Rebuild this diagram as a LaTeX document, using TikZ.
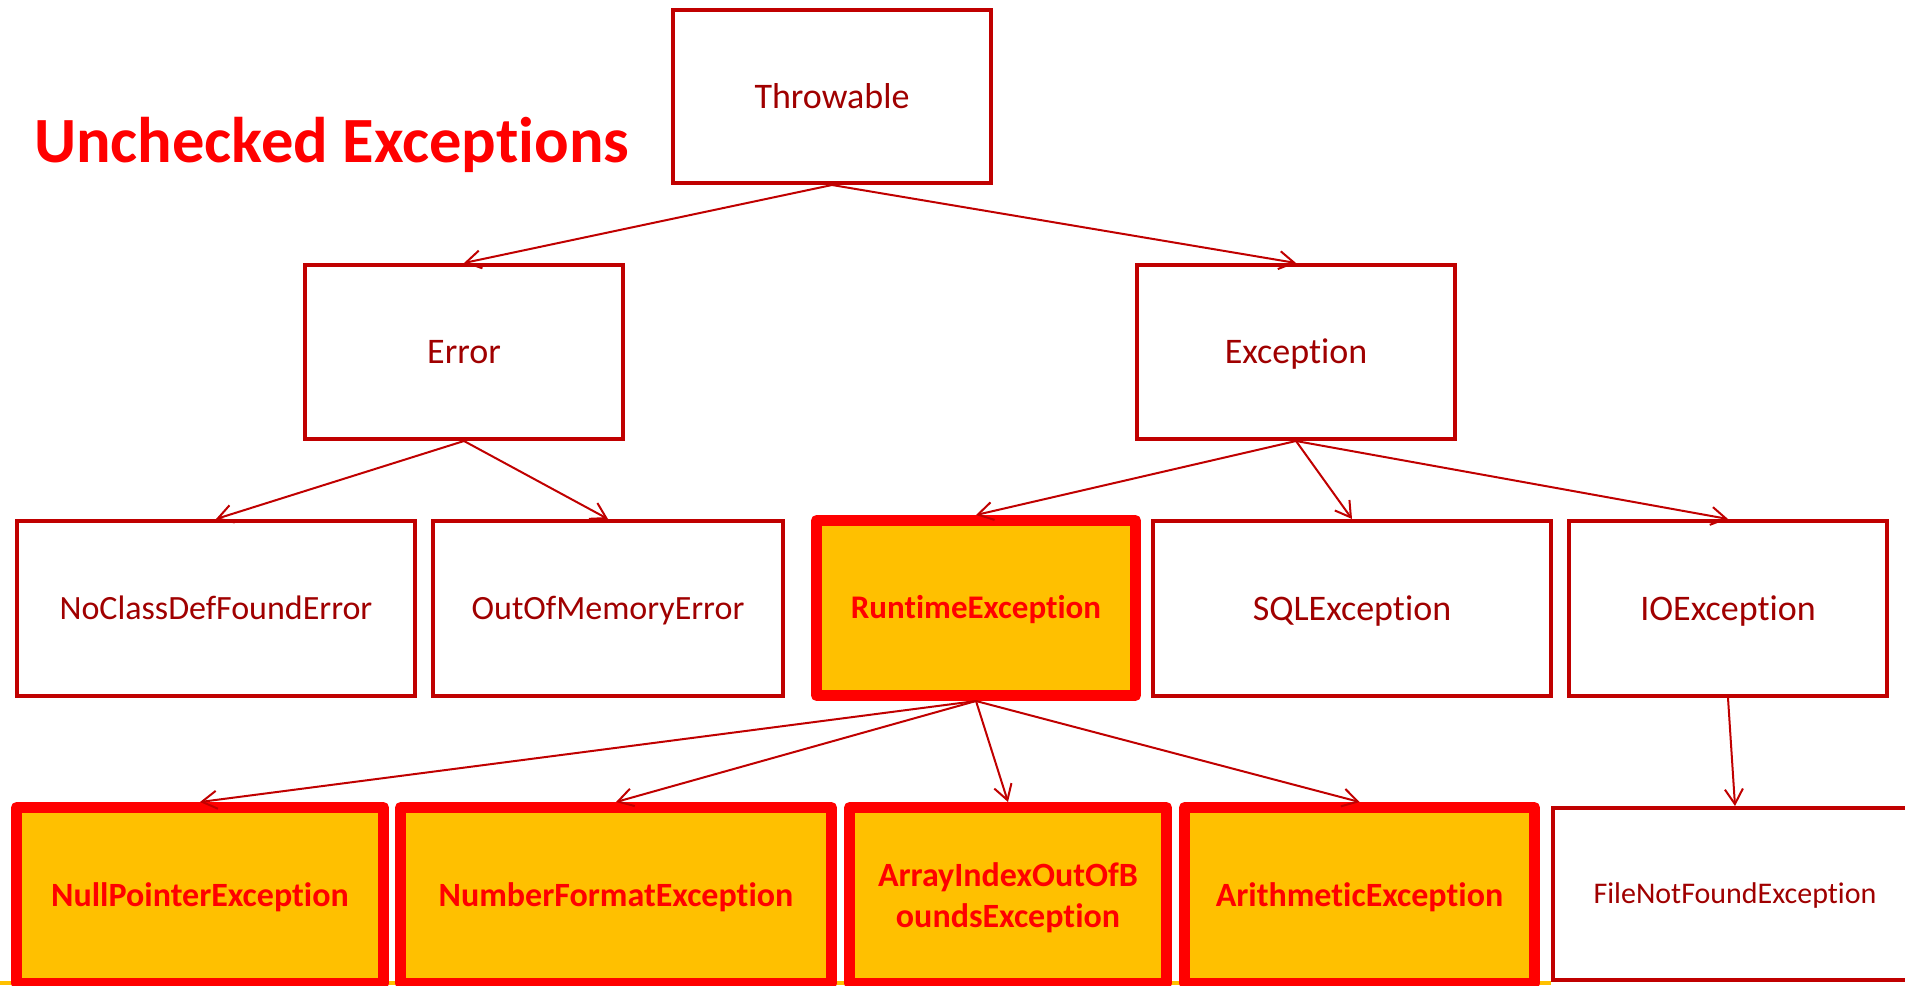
\documentclass[tikz,border=0pt]{standalone}
\usepackage{fontspec}
\setmainfont{Carlito}[Ligatures={NoCommon,NoContextual}, Contextuals=NoAlternate, RawFeature={-liga;-clig;-calt}]
\usetikzlibrary{arrows.meta}
\definecolor{boxred}{HTML}{C00000}
\definecolor{txtred}{HTML}{A00000}
\definecolor{hired}{HTML}{FF0000}
\definecolor{hifill}{HTML}{FFC000}

\begin{document}
\begin{tikzpicture}[x=1pt,y=-1pt,
  cls/.style={rectangle, draw=boxred, line width=4pt, fill=white, text=txtred,
    inner sep=0pt, font=\fontsize{36}{43}\selectfont,
    text height=23pt, text depth=0pt},
  hot/.style={rectangle, draw=hired, fill=hifill, line width=11pt, line join=round,
    text=hired, inner sep=0pt, font=\bfseries\fontsize{34}{41}\selectfont,
    text height=22pt, text depth=0pt},
  inherit/.style={draw=boxred, line width=2pt,
    -{Straight Barb[length=15pt,width=18pt]}}
]
\useasboundingbox (0,0) rectangle (1905,985);

% thin strip along the lower edge
\fill[hifill] (0,981) rectangle (1551,985);

% title
\node[anchor=base west, inner sep=0pt, text=hired,
  font=\bfseries\fontsize{64.5}{77}\selectfont] (title) at (34,162) {Unchecked Exceptions};

% class hierarchy
\node[cls, minimum width=318pt, minimum height=173pt] (thr) at (832,96.5) {Throwable};
\node[cls, minimum width=318pt, minimum height=174pt] (err) at (464,352) {Error};
\node[cls, minimum width=318pt, minimum height=174pt] (exc) at (1296,352) {Exception};

\node[cls, minimum width=398pt, minimum height=175pt, font=\fontsize{34}{41}\selectfont, text height=22pt] (ncdf) at (216,608.5) {NoClassDefFoundError};
\node[cls, minimum width=350pt, minimum height=175pt, font=\fontsize{34}{41}\selectfont, text height=22pt] (oom) at (608,608.5) {OutOfMemoryError};
\node[hot, minimum width=319pt, minimum height=175pt, font=\bfseries\fontsize{33}{40}\selectfont, text height=21pt] (rte) at (976,608) {RuntimeException};
\node[cls, minimum width=398pt, minimum height=175pt] (sql) at (1352,608.5) {SQLException};
\node[cls, minimum width=318pt, minimum height=175pt] (ioe) at (1728,608.5) {IOException};

\node[hot, minimum width=367pt, minimum height=176pt] (npe) at (200,895.5) {NullPointerException};
\node[hot, minimum width=431pt, minimum height=176pt] (nfe) at (616,895.5) {NumberFormatException};
\node[hot, minimum width=317pt, minimum height=176pt, text height=63pt, text depth=0pt, align=center] (aio) at (1008,895.5) {ArrayIndexOutOfB\\oundsException};
\node[hot, minimum width=350pt, minimum height=176pt] (ari) at (1359.5,895.5) {ArithmeticException};
\node[cls, minimum width=364pt, minimum height=172pt, font=\fontsize{30}{36}\selectfont, text height=19pt] (fnf) at (1735,894) {FileNotFoundException};

% inheritance arrows
\draw[inherit] (thr.south) -- (err.north);
\draw[inherit] (thr.south) -- (exc.north);
\draw[inherit] (err.south) -- (ncdf.north);
\draw[inherit] (err.south) -- (oom.north);
\draw[inherit] (exc.south) -- (rte.north);
\draw[inherit] (exc.south) -- (sql.north);
\draw[inherit] (exc.south) -- (ioe.north);
\draw[inherit] (rte.south) -- (npe.north);
\draw[inherit] (rte.south) -- (nfe.north);
\draw[inherit] (rte.south) -- (aio.north);
\draw[inherit] (rte.south) -- (ari.north);
\draw[inherit] (ioe.south) -- (fnf.north);
\end{tikzpicture}
\end{document}
